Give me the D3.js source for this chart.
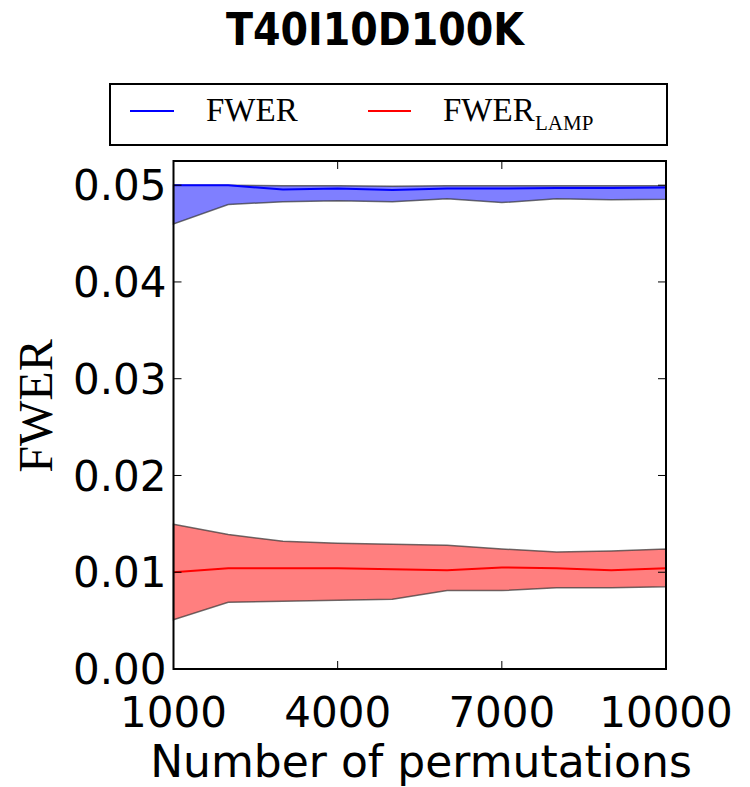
<!DOCTYPE html>
<html>
<head>
<meta charset="utf-8">
<script src="https://cdn.jsdelivr.net/npm/d3@7"></script>
<style>
  body { margin: 0; background: #fff; }
  svg { display: block; }
</style>
</head>
<body>
<svg id="chart" width="750" height="787"></svg>
<script>
// number of permutations
var perms = [1000, 2000, 3000, 4000, 5000, 6000, 7000, 8000, 9000, 10000];
var xTicks = [1000, 4000, 7000, 10000];
var yTicks = [0.00, 0.01, 0.02, 0.03, 0.04, 0.05];

// FWER (blue band)
var fwerMean  = [0.0500, 0.0500, 0.04955, 0.04965, 0.04950, 0.04965, 0.04965, 0.04970, 0.04970, 0.04975];
var fwerUpper = [0.0500, 0.0500, 0.04995, 0.04995, 0.04990, 0.04995, 0.04995, 0.04995, 0.04995, 0.04995];
var fwerLower = [0.0460, 0.0480, 0.0483, 0.0484, 0.0483, 0.0486, 0.0482, 0.0486, 0.0485, 0.04855];

// FWER_LAMP (red band)
var lampMean  = [0.0100, 0.0104, 0.0104, 0.0104, 0.0103, 0.0102, 0.0105, 0.0104, 0.0102, 0.0104];
var lampUpper = [0.01495, 0.0139, 0.0132, 0.0130, 0.0129, 0.0128, 0.0124, 0.0121, 0.0122, 0.0124];
var lampLower = [0.0051, 0.0069, 0.0070, 0.0071, 0.0072, 0.0081, 0.0081, 0.0084, 0.0084, 0.0085];

var svg = d3.select("#chart");

// plot box (don't call it "top", that's window.top)
var pLeft = 173.5, pRight = 666, pTop = 161, pBottom = 669;

var x = d3.scaleLinear().domain([1000, 10000]).range([pLeft, pRight]);
var y = d3.scaleLinear().domain([0, 0.0525]).range([pBottom, pTop]);

function band(lo, hi) {
	return d3.area()
		.x(function(d, i) { return x(perms[i]); })
		.y0(function(d, i) { return y(lo[i]); })
		.y1(function(d, i) { return y(hi[i]); })(perms);
}
function line(vals) {
	return d3.line()
		.x(function(d, i) { return x(perms[i]); })
		.y(function(d, i) { return y(vals[i]); })(perms);
}

var plot = svg.append("g");

// bands
plot.append("path").attr("d", band(fwerLower, fwerUpper))
	.attr("fill", "#0000ff").attr("fill-opacity", 0.5)
	.attr("stroke", "#333").attr("stroke-opacity", 0.7).attr("stroke-width", 1.5);
plot.append("path").attr("d", band(lampLower, lampUpper))
	.attr("fill", "#ff0000").attr("fill-opacity", 0.5)
	.attr("stroke", "#333").attr("stroke-opacity", 0.7).attr("stroke-width", 1.5);

// mean lines
plot.append("path").attr("d", line(fwerMean))
	.attr("fill", "none").attr("stroke", "#0000ff").attr("stroke-width", 2);
plot.append("path").attr("d", line(lampMean))
	.attr("fill", "none").attr("stroke", "#ff0000").attr("stroke-width", 2);

// inward ticks on all four sides
var tickLen = 8;
var ticks = svg.append("g").attr("stroke", "#000").attr("stroke-width", 1);
yTicks.forEach(function(t) {
	ticks.append("line").attr("x1", pLeft).attr("x2", pLeft + tickLen).attr("y1", y(t)).attr("y2", y(t));
	ticks.append("line").attr("x1", pRight).attr("x2", pRight - tickLen).attr("y1", y(t)).attr("y2", y(t));
});
xTicks.forEach(function(t) {
	ticks.append("line").attr("x1", x(t)).attr("x2", x(t)).attr("y1", pBottom).attr("y2", pBottom - tickLen);
	ticks.append("line").attr("x1", x(t)).attr("x2", x(t)).attr("y1", pTop).attr("y2", pTop + tickLen);
});

// frame
svg.append("rect")
	.attr("x", pLeft).attr("y", pTop)
	.attr("width", pRight - pLeft).attr("height", pBottom - pTop)
	.attr("fill", "none").attr("stroke", "#000").attr("stroke-width", 2);

// tick labels
svg.append("g").selectAll("text").data(yTicks).enter().append("text")
	.attr("x", pLeft - 7).attr("y", function(d) { return y(d); })
	.attr("dy", "0.36em")
	.attr("text-anchor", "end")
	.style("font-family", "DejaVu Sans").style("font-size", "42px")
	.text(function(d) { return d3.format(".2f")(d); });

svg.append("g").selectAll("text").data(xTicks).enter().append("text")
	.attr("x", function(d) { return x(d); }).attr("y", 727)
	.attr("text-anchor", "middle")
	.style("font-family", "DejaVu Sans").style("font-size", "42px")
	.text(function(d) { return d; });

// axis labels
svg.append("text")
	.attr("x", 421).attr("y", 777)
	.attr("text-anchor", "middle")
	.style("font-family", "DejaVu Sans").style("font-size", "44px")
	.text("Number of permutations");

svg.append("text")
	.attr("transform", "translate(52,406) rotate(-90)")
	.attr("text-anchor", "middle")
	.style("font-family", "Liberation Serif").style("font-size", "48px")
	.text("FWER");

// title
svg.append("text")
	.attr("x", 375).attr("y", 45)
	.attr("text-anchor", "middle")
	.style("font-family", "DejaVu Sans Condensed").style("font-weight", "bold").style("font-size", "44px")
	.text("T40I10D100K");

// legend
var lg = svg.append("g");
lg.append("rect").attr("x", 110).attr("y", 84).attr("width", 557).attr("height", 61)
	.attr("fill", "#fff").attr("stroke", "#000").attr("stroke-width", 2);
lg.append("line").attr("x1", 130).attr("x2", 174).attr("y1", 111).attr("y2", 111)
	.attr("stroke", "#0000ff").attr("stroke-width", 2);
lg.append("line").attr("x1", 368).attr("x2", 411).attr("y1", 111).attr("y2", 111)
	.attr("stroke", "#ff0000").attr("stroke-width", 2);
lg.append("text").attr("x", 206).attr("y", 121)
	.style("font-family", "Liberation Serif").style("font-size", "33px")
	.text("FWER");
var t2 = lg.append("text").attr("x", 443).attr("y", 121)
	.style("font-family", "Liberation Serif").style("font-size", "33px");
t2.append("tspan").text("FWER");
t2.append("tspan").attr("x", 535).attr("y", 130).style("font-size", "21px").text("LAMP");
</script>
</body>
</html>
